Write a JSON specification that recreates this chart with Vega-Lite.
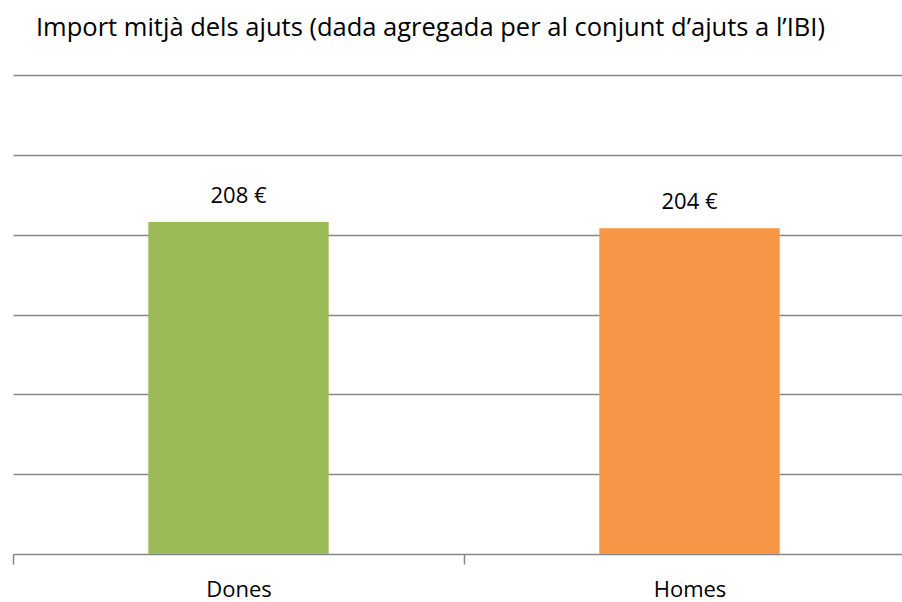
{
  "$schema": "https://vega.github.io/schema/vega-lite/v6.json",
  "autosize": {"type": "none"},
  "width": 902,
  "height": 479,
  "padding": {"left": 13, "top": 75, "right": 0, "bottom": 48},
  "background": "white",
  "title": {
    "text": "Import mitjà dels ajuts (dada agregada per al conjunt d’ajuts a l’IBI)",
    "anchor": "start",
    "frame": "group",
    "dx": 23,
    "offset": 14,
    "baseline": "alphabetic",
    "font": "Open Sans",
    "fontSize": 25.5,
    "fontWeight": "normal",
    "color": "#000000"
  },
  "data": {
    "values": [
      {"sexe": "Dones", "import": 208, "etiqueta": "208 €"},
      {"sexe": "Homes", "import": 204, "etiqueta": "204 €"}
    ]
  },
  "config": {
    "view": {"stroke": null},
    "font": "Open Sans"
  },
  "encoding": {
    "x": {
      "field": "sexe",
      "type": "nominal",
      "sort": null,
      "scale": {"paddingInner": 0, "paddingOuter": 0},
      "axis": {
        "title": null,
        "labelAngle": 0,
        "labelFont": "Open Sans",
        "labelFontSize": 22,
        "labelColor": "#000000",
        "labelPadding": 15,
        "tickBand": "extent",
        "tickSize": 10,
        "tickColor": "#868686",
        "tickWidth": 1.5,
        "domainColor": "#868686",
        "domainWidth": 1.5,
        "grid": false
      }
    },
    "y": {
      "field": "import",
      "type": "quantitative",
      "scale": {"domain": [0, 300], "nice": false},
      "axis": {
        "title": null,
        "labels": false,
        "ticks": false,
        "domain": false,
        "values": [50, 100, 150, 200, 250, 300],
        "gridColor": "#868686",
        "gridWidth": 1.5,
        "gridOpacity": 1
      }
    }
  },
  "layer": [
    {
      "mark": {"type": "bar", "width": {"band": 0.4}},
      "encoding": {
        "color": {
          "field": "sexe",
          "type": "nominal",
          "scale": {"domain": ["Dones", "Homes"], "range": ["#9BBB59", "#F79646"]},
          "legend": null
        }
      }
    },
    {
      "mark": {"type": "text", "baseline": "alphabetic", "dy": -19, "font": "Open Sans", "fontSize": 22, "color": "#000000"},
      "encoding": {
        "text": {"field": "etiqueta", "type": "nominal"}
      }
    }
  ]
}
